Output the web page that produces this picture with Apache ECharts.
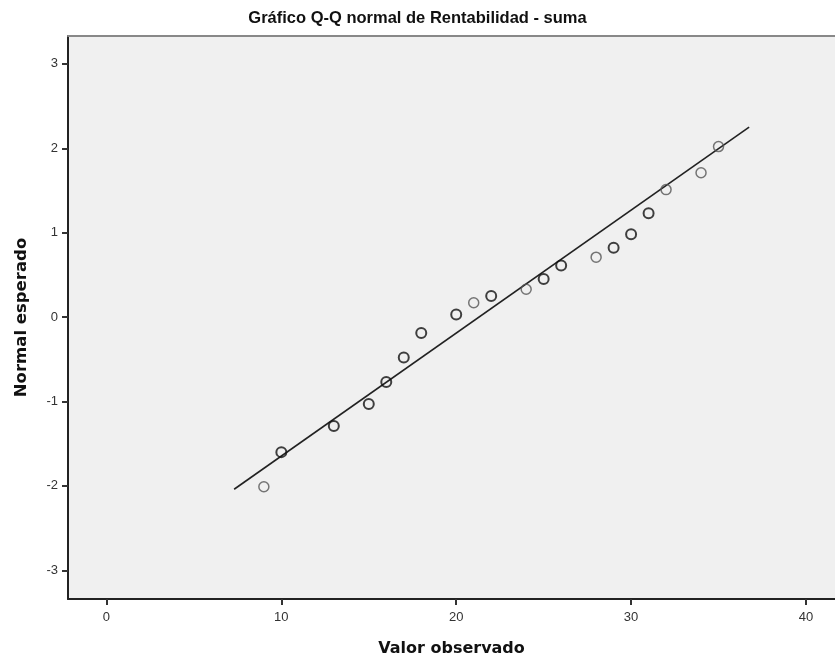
<!DOCTYPE html>
<html>
<head>
<meta charset="utf-8">
<script src="https://cdn.jsdelivr.net/npm/echarts@6/dist/echarts.min.js"></script>
<style>
  html, body { margin: 0; padding: 0; background: #fff; }
  #chart { width: 835px; height: 663px; }
</style>
</head>
<body>
<div id="chart"></div>
<script>
// observed values and their expected normal scores
var observed = [9, 10, 13, 15, 16, 17, 18, 20, 21, 22, 24, 25, 26, 28, 29, 30, 31, 32, 34, 35];
var expected = [-2.01, -1.60, -1.29, -1.03, -0.77, -0.48, -0.19, 0.03, 0.17, 0.25, 0.33, 0.45, 0.61, 0.71, 0.82, 0.98, 1.23, 1.51, 1.71, 2.02];
// how many cases share each value (repeated ones print darker)
var freq = [1, 2, 2, 2, 2, 2, 2, 2, 1, 2, 1, 2, 2, 1, 2, 2, 2, 1, 1, 1];
// reference line end points
var lineX = [7.3, 36.75];
var lineY = [-2.04, 2.25];
var xTicks = [0, 10, 20, 30, 40];
var yTicks = [-3, -2, -1, 0, 1, 2, 3];

var chart = echarts.init(document.getElementById('chart'));

var font = 'Liberation Sans, Arial, sans-serif';

var option = {
    backgroundColor: '#fff',
    animation: false,
    title: {
        text: 'Gráfico Q-Q normal de Rentabilidad - suma',
        left: 'center',
        top: 5,
        textStyle: { fontFamily: font, fontSize: 16.5, fontWeight: 'bold', color: '#111' }
    },
    grid: {
        left: 68, right: 0, top: 36, bottom: 64,
        show: true,
        backgroundColor: '#f0f0f0',
        borderWidth: 0
    },
    xAxis: [{
        type: 'value',
        min: -2.2,
        max: 41.66,
        name: 'Valor observado',
        nameLocation: 'middle',
        nameGap: 42,
        nameTextStyle: { fontFamily: 'DejaVu Sans', fontSize: 16, fontWeight: 'bold', color: '#111' },
        axisLine: { onZero: false, lineStyle: { color: '#222', width: 2 } },
        axisTick: { show: true, length: 6, customValues: xTicks, lineStyle: { color: '#333', width: 2 } },
        axisLabel: { customValues: xTicks, fontFamily: font, fontSize: 13, color: '#333', margin: 12 },
        splitLine: { show: false }
    }, {
        type: 'value',
        position: 'top',
        min: -2.2,
        max: 41.66,
        axisLine: { show: true, onZero: false, lineStyle: { color: '#888', width: 2 } },
        axisTick: { show: false },
        axisLabel: { show: false },
        splitLine: { show: false }
    }],
    yAxis: {
        type: 'value',
        min: -3.34,
        max: 3.33,
        name: 'Normal esperado',
        nameLocation: 'middle',
        nameGap: 38,
        nameTextStyle: { fontFamily: 'DejaVu Sans', fontSize: 16.5, fontWeight: 'bold', color: '#111' },
        axisLine: { show: true, onZero: false, lineStyle: { color: '#222', width: 2 } },
        axisTick: { show: true, length: 6, customValues: yTicks, lineStyle: { color: '#333', width: 2 } },
        axisLabel: { customValues: yTicks, fontFamily: font, fontSize: 13, color: '#333', margin: 10 },
        splitLine: { show: false }
    },
    series: [{
        type: 'line',
        data: lineX.map(function (x, i) { return [x, lineY[i]]; }),
        showSymbol: false,
        lineStyle: { color: '#222', width: 1.6 },
        silent: true,
        z: 2
    }, {
        type: 'scatter',
        symbol: 'circle',
        symbolSize: 10,
        data: observed.map(function (x, i) {
            return {
                value: [x, expected[i]],
                itemStyle: freq[i] > 1
                    ? { borderColor: '#111', borderWidth: 2 }
                    : { borderColor: '#555', borderWidth: 1.5 }
            };
        }),
        itemStyle: { color: 'rgba(0,0,0,0)' },
        z: 3
    }]
};

chart.setOption(option);
</script>
</body>
</html>
